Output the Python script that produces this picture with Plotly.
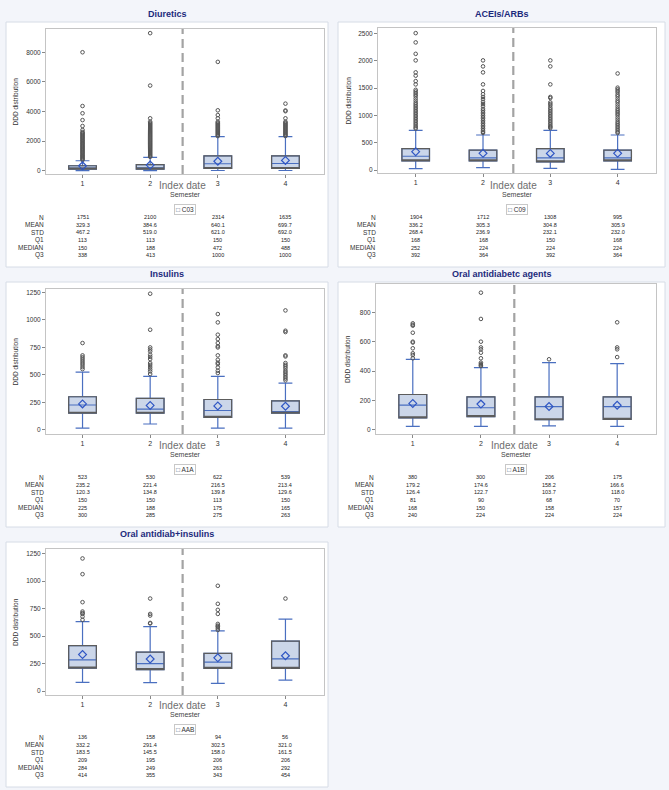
import plotly.graph_objects as go

W, H = 669, 790
FONT = "Liberation Sans, Arial, sans-serif"

semesters = [1, 2, 3, 4]
row_labels = ["N", "MEAN", "STD", "Q1", "MEDIAN", "Q3"]

# ---------------- Diuretics (C03) ----------------
c03_n = [1751, 2100, 2314, 1635]
c03_mean = [329.3, 384.6, 640.1, 699.7]
c03_std = [467.2, 519.0, 621.0, 692.0]
c03_q1 = [113, 113, 150, 150]
c03_median = [150, 188, 472, 488]
c03_q3 = [338, 413, 1000, 1000]
c03_lo = [10, 10, 15, 15]
c03_hi = [676, 905, 2297, 2297]
c03_out1 = [8000, 4370, 3880, 3420, 3020, 2750, 2610, 2550, 2490, 2420, 2360, 2290, 2230, 2170,
            2100, 2040, 1980, 1910, 1850, 1790, 1720, 1660, 1600, 1530, 1470, 1410, 1350, 1280,
            1220, 1160, 1090, 1030, 970, 910, 850, 790, 730]
c03_out2 = [9290, 5750, 3540, 3310, 3230, 3160, 3090, 3020, 2950, 2880, 2810, 2740, 2670, 2600,
            2530, 2460, 2390, 2320, 2250, 2180, 2110, 2040, 1970, 1900, 1830, 1760, 1690, 1620,
            1550, 1480, 1410, 1340, 1270, 1200, 1130, 1060, 990, 940]
c03_out3 = [7350, 4080, 3760, 3540, 3310, 3240, 3180, 3110, 3050, 2980, 2920, 2850, 2790, 2720,
            2660, 2590, 2530, 2460, 2400, 2340]
c03_out4 = [4530, 4070, 4020, 3540, 3310, 3240, 3180, 3110, 3050, 2980, 2920, 2850, 2790, 2720,
            2660, 2590, 2530, 2460, 2400, 2340]

# ---------------- ACEIs/ARBs (C09) ----------------
c09_n = [1904, 1712, 1308, 995]
c09_mean = [336.2, 305.3, 304.8, 305.9]
c09_std = [268.4, 236.9, 232.1, 232.0]
c09_q1 = [168, 168, 150, 168]
c09_median = [252, 224, 224, 224]
c09_q3 = [392, 364, 392, 364]
c09_lo = [24, 43, 31, 12]
c09_hi = [727, 642, 727, 642]
c09_out1 = [2510, 2340, 2130, 2010, 1790, 1730, 1630, 1570, 1470, 1440, 1410, 1380, 1350, 1310,
            1270, 1230, 1200, 1170, 1140, 1110, 1080, 1050, 1020, 990, 960, 930, 900, 870, 840,
            810, 780, 760]
c09_out2 = [2010, 1900, 1790, 1570, 1450, 1390, 1340, 1300, 1250, 1210, 1170, 1120, 1090, 1060,
            1030, 1000, 970, 940, 910, 880, 850, 820, 790, 760, 730, 700, 680]
c09_out3 = [2010, 1900, 1570, 1340, 1320, 1240, 1210, 1180, 1140, 1110, 1080, 1050, 1020, 990,
            960, 930, 900, 870, 840, 810, 790, 770]
c09_out4 = [1770, 1510, 1480, 1450, 1420, 1380, 1350, 1310, 1270, 1240, 1200, 1160, 1120, 1090,
            1060, 1030, 1000, 960, 920, 880, 850, 820, 790, 760, 730, 700, 680]

# ---------------- Insulins (A1A) ----------------
a1a_n = [523, 530, 622, 539]
a1a_mean = [235.2, 221.4, 216.5, 213.4]
a1a_std = [120.3, 134.8, 139.8, 129.6]
a1a_q1 = [150, 150, 113, 150]
a1a_median = [225, 188, 175, 165]
a1a_q3 = [300, 285, 275, 263]
a1a_lo = [15, 52, 15, 15]
a1a_hi = [525, 485, 485, 425]
a1a_out1 = [789, 677, 660, 643, 625, 607, 590, 570, 552]
a1a_out2 = [1238, 910, 749, 731, 713, 683, 663, 643, 607, 590, 570, 550, 531, 507]
a1a_out3 = [1053, 977, 865, 825, 789, 760, 749, 677, 637, 610, 598, 567, 537, 516]
a1a_out4 = [1086, 901, 889, 677, 667, 607, 590, 576, 560, 540, 525, 510, 495, 479, 465, 449]

# ---------------- Oral antidiabetic agents (A1B) ----------------
a1b_n = [380, 300, 206, 175]
a1b_mean = [179.2, 174.6, 158.2, 166.6]
a1b_std = [126.4, 122.7, 103.7, 118.0]
a1b_q1 = [81, 90, 68, 70]
a1b_median = [168, 150, 158, 157]
a1b_q3 = [240, 224, 224, 224]
a1b_lo = [23, 23, 27, 23]
a1b_hi = [480, 423, 457, 450]
a1b_out1 = [725, 715, 709, 661, 600, 594, 555, 521, 509, 487]
a1b_out2 = [934, 755, 600, 561, 548, 525, 487, 457, 448, 440, 434]
a1b_out3 = [480]
a1b_out4 = [732, 561, 548, 495]

# ---------------- Oral antidiab + insulins (AAB) ----------------
aab_n = [136, 158, 94, 56]
aab_mean = [332.2, 291.4, 302.5, 321.0]
aab_std = [183.5, 145.5, 158.0, 161.5]
aab_q1 = [209, 195, 206, 206]
aab_median = [284, 249, 263, 292]
aab_q3 = [414, 355, 343, 454]
aab_lo = [79, 76, 70, 100]
aab_hi = [632, 587, 547, 654]
aab_out1 = [1207, 1064, 809, 724, 710, 702, 678, 648]
aab_out2 = [842, 702, 687, 620, 615]
aab_out3 = [958, 794, 739, 702, 611, 595, 587, 572, 556]
aab_out4 = [842]

titles = ["Diuretics", "ACEIs/ARBs", "Insulins", "Oral antidiabetc agents", "Oral antidiab+insulins"]
codes = ["C03", "C09", "A1A", "A1B", "AAB"]

data = [
    dict(n=c03_n, mean=c03_mean, std=c03_std, q1=c03_q1, med=c03_median, q3=c03_q3,
         lo=c03_lo, hi=c03_hi, out=[c03_out1, c03_out2, c03_out3, c03_out4]),
    dict(n=c09_n, mean=c09_mean, std=c09_std, q1=c09_q1, med=c09_median, q3=c09_q3,
         lo=c09_lo, hi=c09_hi, out=[c09_out1, c09_out2, c09_out3, c09_out4]),
    dict(n=a1a_n, mean=a1a_mean, std=a1a_std, q1=a1a_q1, med=a1a_median, q3=a1a_q3,
         lo=a1a_lo, hi=a1a_hi, out=[a1a_out1, a1a_out2, a1a_out3, a1a_out4]),
    dict(n=a1b_n, mean=a1b_mean, std=a1b_std, q1=a1b_q1, med=a1b_median, q3=a1b_q3,
         lo=a1b_lo, hi=a1b_hi, out=[a1b_out1, a1b_out2, a1b_out3, a1b_out4]),
    dict(n=aab_n, mean=aab_mean, std=aab_std, q1=aab_q1, med=aab_median, q3=aab_q3,
         lo=aab_lo, hi=aab_hi, out=[aab_out1, aab_out2, aab_out3, aab_out4]),
]

# ---------------- layout (pixels) ----------------
layout_px = [
    dict(frame=(46, 324, 29, 174), panel=(6, 328, 22, 267), yr=(-220, 9570), dt=2000, xr=(0.46, 4.57), vl=2.48, ytx=15),
    dict(frame=(378, 656, 28, 173), panel=(338, 665, 22, 267), yr=(-55, 2604), dt=500, xr=(0.44, 4.57), vl=2.45, ytx=348),
    dict(frame=(46, 324, 289, 434), panel=(6, 328, 282, 527), yr=(-39, 1281), dt=250, xr=(0.46, 4.57), vl=2.48, ytx=15),
    dict(frame=(376, 656, 284, 434), panel=(338, 665, 282, 527), yr=(-29, 993), dt=200, xr=(0.46, 4.57), vl=2.49, ytx=347),
    dict(frame=(46, 324, 549, 695), panel=(6, 328, 542, 787), yr=(-36, 1293), dt=250, xr=(0.46, 4.57), vl=2.48, ytx=15),
]


def fx(p):
    return p / W


def fy(p):
    return 1 - p / H


BOX_FILL = "#cbd6e9"
BOX_EDGE = "#5c5c5c"
BLUE = "#4a6fc0"
MEAN_BLUE = "#2f56c4"

fig = go.Figure()
shapes = []
annotations = []
lay = {}

for i, (d, L) in enumerate(zip(data, layout_px)):
    k = "" if i == 0 else str(i + 1)
    xa, ya = "x" + k, "y" + k
    x0, x1, y0, y1 = L["frame"]
    px0, px1, py0, py1 = L["panel"]

    # panel background
    shapes.append(dict(type="rect", xref="paper", yref="paper",
                       x0=fx(px0), x1=fx(px1), y0=fy(py1), y1=fy(py0),
                       fillcolor="white", line=dict(color="#d6dce6", width=1), layer="below"))

    # box with blue whiskers + median
    fig.add_trace(go.Box(x=semesters, q1=d["q1"], median=d["med"], q3=d["q3"],
                         lowerfence=d["lo"], upperfence=d["hi"], boxpoints=False,
                         width=0.41, whiskerwidth=0.5, fillcolor=BOX_FILL,
                         line=dict(color=BLUE, width=1.2), xaxis=xa, yaxis=ya,
                         showlegend=False, hoverinfo="skip"))
    # dark box outline on top
    fig.add_trace(go.Box(x=semesters, q1=d["q1"], median=d["q1"], q3=d["q3"],
                         lowerfence=d["q1"], upperfence=d["q3"], boxpoints=False,
                         width=0.41, whiskerwidth=0.0, fillcolor="rgba(0,0,0,0)",
                         line=dict(color=BOX_EDGE, width=1.2), xaxis=xa, yaxis=ya,
                         showlegend=False, hoverinfo="skip"))
    # outliers
    ox, oy = [], []
    for s, vals in zip(semesters, d["out"]):
        ox += [s] * len(vals)
        oy += vals
    fig.add_trace(go.Scatter(x=ox, y=oy, mode="markers", xaxis=xa, yaxis=ya,
                             marker=dict(symbol="circle-open", size=3.6, color="#555555",
                                         line=dict(width=1.0, color="#555555")),
                             showlegend=False, hoverinfo="skip"))
    # means
    fig.add_trace(go.Scatter(x=semesters, y=d["mean"], mode="markers", xaxis=xa, yaxis=ya,
                             marker=dict(symbol="diamond-open", size=6, color=MEAN_BLUE,
                                         line=dict(width=1.2, color=MEAN_BLUE)),
                             showlegend=False, hoverinfo="skip"))

    lay["xaxis" + k] = dict(domain=[fx(x0), fx(x1)], range=list(L["xr"]), anchor=ya,
                            tickvals=semesters, ticktext=[str(s) for s in semesters],
                            ticks="outside", ticklen=3, tickcolor="#888", showgrid=False,
                            zeroline=False, showline=True, mirror=True, linecolor="#c4c4c4",
                            linewidth=1, tickfont=dict(size=7, color="#333", family=FONT))
    lay["yaxis" + k] = dict(domain=[fy(y1), fy(y0)], range=list(L["yr"]), anchor=xa,
                            dtick=L["dt"], tick0=0, ticks="outside", ticklen=3, tickcolor="#888",
                            showgrid=False, zeroline=False, showline=True, mirror=True,
                            linecolor="#c4c4c4", linewidth=1,
                            tickfont=dict(size=6.5, color="#333", family=FONT))

    # dashed index-date line
    shapes.append(dict(type="line", xref=xa, yref=ya + " domain", x0=L["vl"], x1=L["vl"],
                       y0=0, y1=1, line=dict(color="#a3a3a3", width=2.2, dash="9px,5px")))

    # title
    annotations.append(dict(text="<b>" + titles[i] + "</b>", xref="paper", yref="paper",
                            x=fx((px0 + px1) / 2), y=fy(py0 - 8), showarrow=False,
                            xanchor="center", yanchor="middle",
                            font=dict(size=9, color="#1c2a7c", family=FONT)))
    # y title
    annotations.append(dict(text="DDD distribution", xref="paper", yref="paper",
                            x=fx(L["ytx"]), y=fy((y0 + y1) / 2), textangle=-90, showarrow=False,
                            xanchor="center", yanchor="middle",
                            font=dict(size=6.5, color="#333", family=FONT)))
    # Index date
    annotations.append(dict(text="Index date", xref=xa, yref="paper", x=L["vl"],
                            y=fy(py0 + 163), showarrow=False, xanchor="center", yanchor="middle",
                            font=dict(size=10, color="#6e6e6e", family=FONT)))
    # Semester
    annotations.append(dict(text="Semester", xref="paper", yref="paper", x=fx((x0 + x1) / 2),
                            y=fy(py0 + 172.5), showarrow=False, xanchor="center", yanchor="middle",
                            font=dict(size=7, color="#444", family=FONT)))
    # legend-like box
    annotations.append(dict(text="<span style='color:#4a5a80'>□</span> " + codes[i],
                            xref="paper", yref="paper", x=fx((x0 + x1) / 2), y=fy(py0 + 187),
                            showarrow=False, xanchor="center", yanchor="middle",
                            bordercolor="#c8c8c8", borderwidth=1, borderpad=1, bgcolor="white",
                            font=dict(size=6.5, color="#333", family=FONT)))
    # statistics table
    rows = [d["n"], d["mean"], d["std"], d["q1"], d["med"], d["q3"]]
    fmts = ["{:d}", "{:.1f}", "{:.1f}", "{:d}", "{:d}", "{:d}"]
    for r, (lab, vals, fm) in enumerate(zip(row_labels, rows, fmts)):
        yy = fy(py0 + 195 + r * 7.67)
        annotations.append(dict(text=lab, xref="paper", yref="paper", x=fx(x0), y=yy,
                                showarrow=False, xanchor="right", yanchor="middle",
                                font=dict(size=6.5, color="#333", family=FONT)))
        for s, v in zip(semesters, vals):
            annotations.append(dict(text=fm.format(v), xref=xa, yref="paper", x=s, y=yy,
                                    showarrow=False, xanchor="center", yanchor="middle",
                                    font=dict(size=5.5, color="#222", family=FONT)))

fig.update_layout(width=W, height=H, autosize=False, margin=dict(l=0, r=0, t=0, b=0),
                  paper_bgcolor="#f3f5fa", plot_bgcolor="white", boxmode="overlay",
                  shapes=shapes, annotations=annotations, showlegend=False,
                  font=dict(family=FONT), **lay)

fig.write_html("out.html", config={"displayModeBar": False},
               post_script="document.body.style.margin='0';document.body.style.overflow='hidden';")
